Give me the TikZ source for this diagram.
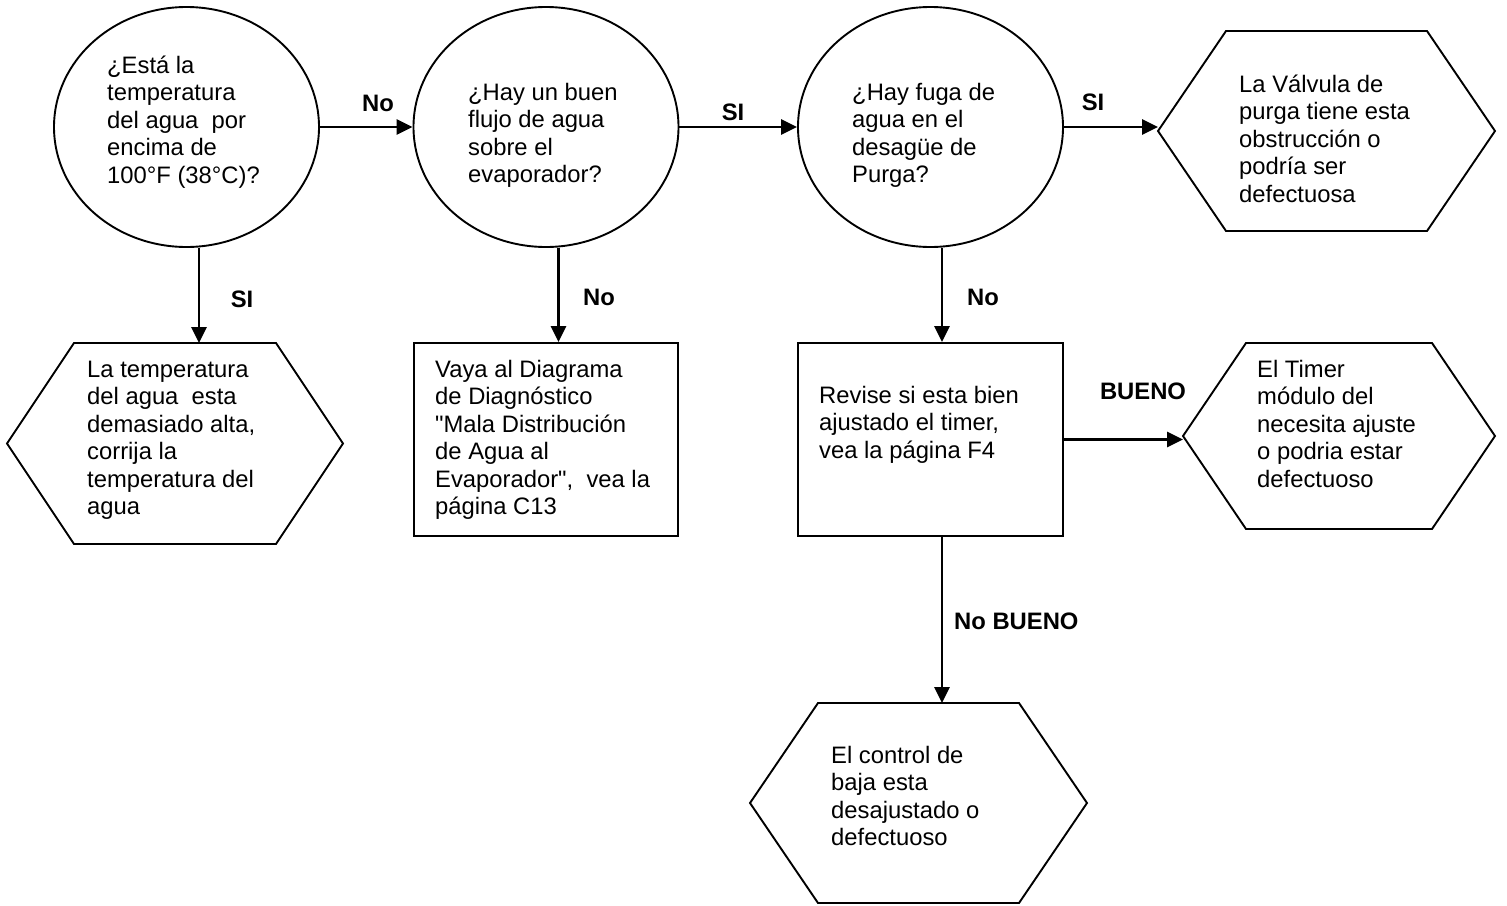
\documentclass[tikz,border=0pt]{standalone}
\usepackage{fontspec}
\setmainfont{Liberation Sans}
\newfontfamily\nq{Liberation Sans}
\usetikzlibrary{shapes.geometric,arrows.meta}
\newcommand{\tlines}[1]{\vtop{\baselineskip=27.5pt\lineskiplimit=-50pt\halign{##\hfil\cr#1\crcr}}}
\newcommand{\hexa}[2]{\draw[shp] (#1.west) -- ([xshift=#2]#1.north west) -- ([xshift=-#2]#1.north east) -- (#1.east) -- ([xshift=-#2]#1.south east) -- ([xshift=#2]#1.south west) -- cycle;}
\begin{document}
\begin{tikzpicture}[x=1pt,y=-1pt,
 shp/.style={draw, line width=1.9pt},
 ell/.style={shp, ellipse, inner sep=0pt, minimum width=265pt, minimum height=240pt},
 rect/.style={shp, rectangle, inner sep=0pt},
 hexbox/.style={rectangle, inner sep=0pt, outer sep=0pt},
 txt/.style={anchor=base west, inner sep=0pt, font=\nq\fontsize{23.8pt}{27.5pt}\selectfont},
 lbl/.style={anchor=base, inner sep=0pt, font=\nq\fontsize{23.8pt}{27.5pt}\selectfont\bfseries},
 arr/.style={line width=2.8pt, -{Triangle[length=16pt,width=15pt]}}]
\useasboundingbox (0,0) rectangle (1507,905);

% shapes
\node[ell] (c1) at (186.5,127) {};
\node[ell] (c2) at (546,127) {};
\node[ell] (c3) at (930.5,127) {};
\node[hexbox, minimum width=337pt, minimum height=200pt] (h4) at (1326.5,131) {};
\node[hexbox, minimum width=336pt, minimum height=201pt] (h1) at (175,443.5) {};
\node[rect, minimum width=264pt, minimum height=193pt] (r2) at (546,439.5) {};
\node[rect, minimum width=265pt, minimum height=193pt] (r3) at (930.5,439.5) {};
\node[hexbox, minimum width=312pt, minimum height=186pt] (h5) at (1339,436) {};
\node[hexbox, minimum width=337pt, minimum height=200pt] (h6) at (918.5,803) {};
\hexa{h4}{68pt}
\hexa{h1}{67pt}
\hexa{h5}{63pt}
\hexa{h6}{68pt}

% texts
\node[txt] (t1) at (107,73) {\tlines{¿Está la\cr temperatura\cr del agua\ \ por\cr encima de\cr 100°F (38°C)?}};
\node[txt] (t2) at (468,100) {\tlines{¿Hay un buen\cr flujo de agua\cr sobre el\cr evaporador?}};
\node[txt] (t3) at (852,100) {\tlines{¿Hay fuga de\cr agua en el\cr desagüe de\cr Purga?}};
\node[txt] (t4) at (1239,92) {\tlines{La Válvula de\cr purga tiene esta\cr obstrucción o\cr podría ser\cr defectuosa}};
\node[txt] (t5) at (87,377) {\tlines{La temperatura\cr del agua\ \ esta\cr demasiado alta,\cr corrija la\cr temperatura del\cr agua}};
\node[txt] (t6) at (435,377) {\tlines{Vaya al Diagrama\cr de Diagnóstico\cr "Mala Distribución\cr de Agua al\cr Evaporador",\ \ vea la\cr página C13}};
\node[txt] (t7) at (819,403) {\tlines{Revise si esta bien\cr ajustado el timer,\cr vea la página F4}};
\node[txt] (t8) at (1257,377) {\tlines{El Timer\cr módulo del\cr necesita ajuste\cr o podria estar\cr defectuoso}};
\node[txt] (t9) at (831,763) {\tlines{El control de\cr baja esta\cr desajustado o\cr defectuoso}};

% labels
\node[lbl] (l1) at (378,111) {No};
\node[lbl] (l2) at (733,120) {SI};
\node[lbl] (l3) at (1093,110) {SI};
\node[lbl] (l4) at (242,307) {SI};
\node[lbl] (l5) at (599,305) {No};
\node[lbl] (l6) at (983,305) {No};
\node[lbl] (l7) at (1143,399) {BUENO};
\node[lbl, anchor=base west] (l8) at (954,629) {No BUENO};

% connectors
\draw[arr] (c1.east) -- (c2.west);
\draw[arr] (c2.east) -- (c3.west);
\draw[arr] (c3.east) -- (c3.east -| h4.west);
\draw[arr] ([xshift=12.5pt]c1.south) -- ([xshift=24pt]h1.north);
\draw[arr] ([xshift=12.5pt]c2.south) -- ([xshift=12.5pt]r2.north);
\draw[arr] ([xshift=11.5pt]c3.south) -- ([xshift=11.5pt]r3.north);
\draw[arr] (r3.east) -- (r3.east -| h5.west);
\draw[arr] ([xshift=11.5pt]r3.south) -- ([xshift=23.5pt]h6.north);
\end{tikzpicture}
\end{document}
